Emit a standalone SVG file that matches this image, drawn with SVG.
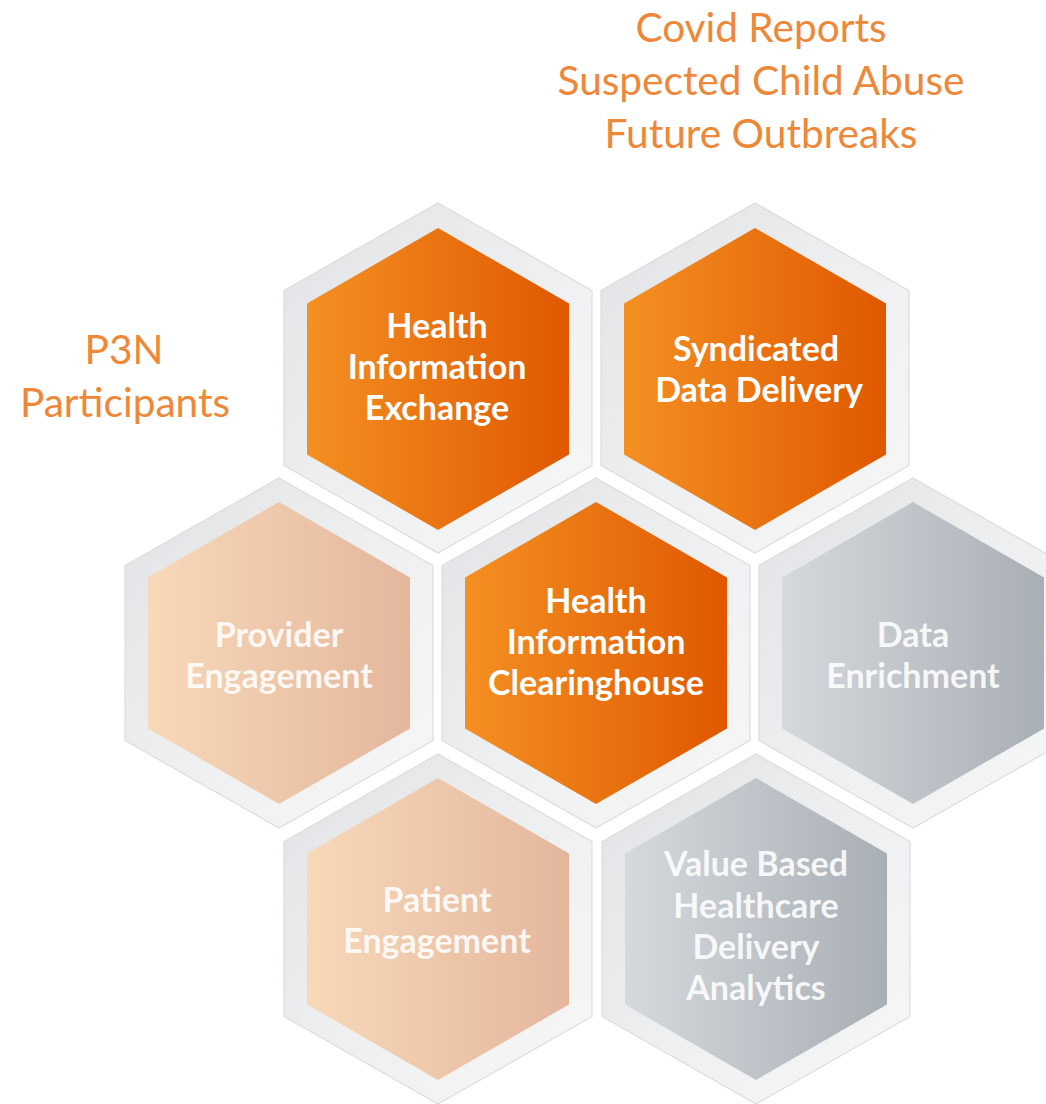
<svg xmlns="http://www.w3.org/2000/svg" xmlns:xlink="http://www.w3.org/1999/xlink" width="1046" height="1104" viewBox="0 0 1046 1104">
  <style>
    .label { font-family: Lato, "Open Sans", "Liberation Sans", sans-serif; font-weight: 700; font-size: 34px; fill: #ffffff; text-anchor: middle; }
    .soft { fill-opacity: 0.88; }
    .note { font-family: Lato, "Open Sans", "Liberation Sans", sans-serif; font-weight: 400; font-size: 40.6px; fill: #ee8838; text-anchor: middle; }
  </style>
  <defs>
    <linearGradient id="gFrame" x1="0" y1="0" x2="1" y2="1">
      <stop offset="0" stop-color="#e1e2e5"/>
      <stop offset="0.5" stop-color="#eeeff0"/>
      <stop offset="1" stop-color="#f7f7f7"/>
    </linearGradient>
    <linearGradient id="gOrange" x1="0" y1="0" x2="1" y2="0">
      <stop offset="0" stop-color="#f49022"/>
      <stop offset="1" stop-color="#e05800"/>
    </linearGradient>
    <linearGradient id="gPeach" x1="0" y1="0" x2="1" y2="0">
      <stop offset="0" stop-color="#f7d8b8"/>
      <stop offset="1" stop-color="#e4b79d"/>
    </linearGradient>
    <linearGradient id="gGray" x1="0" y1="0" x2="1" y2="0">
      <stop offset="0" stop-color="#d5d9dd"/>
      <stop offset="1" stop-color="#a8afb5"/>
    </linearGradient>
    <polygon id="outer" points="0,-175 154,-87.5 154,87.5 0,175 -154,87.5 -154,-87.5" fill="url(#gFrame)" stroke="#dcdcdc" stroke-width="1.2"/>
    <polygon id="innerO" points="0,-151 131,-75.5 131,75.5 0,151 -131,75.5 -131,-75.5" fill="url(#gOrange)"/>
    <polygon id="innerP" points="0,-151 131,-75.5 131,75.5 0,151 -131,75.5 -131,-75.5" fill="url(#gPeach)"/>
    <polygon id="innerG" points="0,-151 131,-75.5 131,75.5 0,151 -131,75.5 -131,-75.5" fill="url(#gGray)"/>
  </defs>
  <rect width="1046" height="1104" fill="#ffffff"/>

  <g id="header">
    <text class="note" x="761" y="42">Covid Reports</text>
    <text class="note" x="761" y="95">Suspected Child Abuse</text>
    <text class="note" x="761" y="148">Future Outbreaks</text>
  </g>
  <g id="p3n">
    <text class="note" x="124" y="364">P3N</text>
    <text class="note" x="125" y="417">Participants</text>
  </g>

  <g id="connectors"/>

  <g id="hie">
    <use xlink:href="#outer" transform="translate(438,378)"/>
    <use xlink:href="#innerO" transform="translate(438,379)"/>
    <text class="label" x="437" y="338">Health</text>
    <text class="label" x="437" y="379">Information</text>
    <text class="label" x="437" y="420">Exchange</text>
  </g>
  <g id="sdd">
    <use xlink:href="#outer" transform="translate(755,378)"/>
    <use xlink:href="#innerO" transform="translate(755,379)"/>
    <text class="label" x="756" y="361">Syndicated</text>
    <text class="label" x="759" y="402">Data Delivery</text>
  </g>
  <g id="provider">
    <use xlink:href="#outer" transform="translate(279,653)"/>
    <use xlink:href="#innerP" transform="translate(279,653)"/>
    <text class="label soft" x="279" y="647">Provider</text>
    <text class="label soft" x="279" y="688">Engagement</text>
  </g>
  <g id="hic">
    <use xlink:href="#outer" transform="translate(596,653)"/>
    <use xlink:href="#innerO" transform="translate(596,653)"/>
    <text class="label" x="596" y="613">Health</text>
    <text class="label" x="596" y="654">Information</text>
    <text class="label" x="596" y="695">Clearinghouse</text>
  </g>
  <g id="enrichment">
    <use xlink:href="#outer" transform="translate(913,653)"/>
    <use xlink:href="#innerG" transform="translate(913,653)"/>
    <text class="label soft" x="913" y="647">Data</text>
    <text class="label soft" x="913" y="688">Enrichment</text>
  </g>
  <g id="patient">
    <use xlink:href="#outer" transform="translate(438,929)"/>
    <use xlink:href="#innerP" transform="translate(438,929)"/>
    <text class="label soft" x="437" y="912">Patient</text>
    <text class="label soft" x="437" y="953">Engagement</text>
  </g>
  <g id="vbh">
    <use xlink:href="#outer" transform="translate(756,929)"/>
    <use xlink:href="#innerG" transform="translate(756,929)"/>
    <text class="label soft" x="756" y="876">Value Based</text>
    <text class="label soft" x="756" y="918">Healthcare</text>
    <text class="label soft" x="756" y="959">Delivery</text>
    <text class="label soft" x="756" y="1000">Analytics</text>
  </g>
</svg>
